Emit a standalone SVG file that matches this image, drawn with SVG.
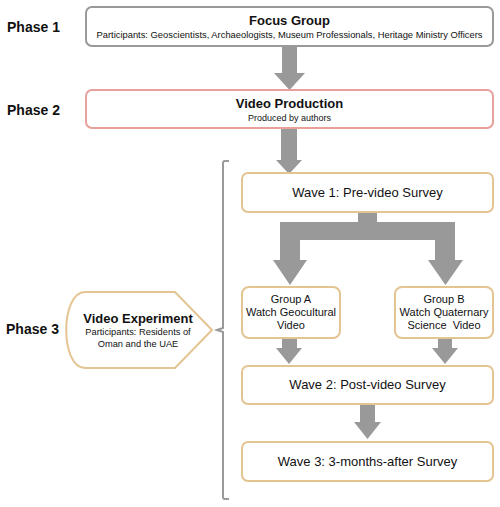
<svg xmlns="http://www.w3.org/2000/svg" width="500" height="507" viewBox="0 0 500 507">
<style>
text{font-family:"Liberation Sans",Arial,sans-serif;fill:#111}
.ph{font-size:14px;font-weight:bold}
.t{font-size:13px;font-weight:bold;text-anchor:middle}
.s{font-size:9px;text-anchor:middle}
.w{font-size:13px;text-anchor:middle}
.g{font-size:11px;text-anchor:middle}
.box{fill:#fff;stroke:#E3C492;stroke-width:2}
.arr{fill:#999}
</style>
<rect width="500" height="507" fill="#fff"/>
<g id="labels">
<text class="ph" x="7" y="32">Phase 1</text>
<text class="ph" x="7" y="115">Phase 2</text>
<text class="ph" x="6" y="334">Phase 3</text>
</g>
<g id="connectors">
<path class="arr" d="M282 46 H297 V73 H305 L289.5 90 L274 73 H282 Z"/>
<path class="arr" d="M281 128 H297 V160 H302 L289 174 L276 160 H281 Z"/>
<path class="arr" d="M358 212 H377 V222 H455 V260 H463 L445.5 285 L428 260 H435 V240 H300 V260 H307 L290 285 L273 260 H280 V222 H358 Z"/>
<path class="arr" d="M282 338 H297 V348 H302 L289 364 L276 348 H282 Z"/>
<path class="arr" d="M438 338 H452 V348 H458 L445 364 L432 348 H438 Z"/>
<path class="arr" d="M360 404 H375 V422 H381 L367.5 439 L354 422 H360 Z"/>
<path d="M229 161 H225 Q223 161 223 163 V328 L217 330 L223 332 V497 Q223 499 225 499 H229" fill="none" stroke="#999" stroke-width="2"/>
</g>
<g id="focus-group">
<rect x="86" y="7" width="407" height="39" rx="6" fill="#fff" stroke="#999" stroke-width="2"/>
<text class="t" x="289.5" y="25">Focus Group</text>
<text class="s" x="289.5" y="38" textLength="386" lengthAdjust="spacingAndGlyphs">Participants: Geoscientists, Archaeologists, Museum Professionals, Heritage Ministry Officers</text>
</g>
<g id="video-production">
<rect x="86" y="90" width="407" height="38" rx="6" fill="#fff" stroke="#E8A09B" stroke-width="2"/>
<text class="t" x="289.5" y="108">Video Production</text>
<text class="s" x="289.5" y="121">Produced by authors</text>
</g>
<g id="video-experiment">
<path d="M85 292 H175 L212 330 L175 368 H85 C60 368 60 292 85 292 Z" fill="#fff" stroke="#E3C492" stroke-width="2"/>
<text class="t" x="138" y="323">Video Experiment</text>
<text class="s" x="138" y="335" style="font-size:9.3px">Participants: Residents of</text>
<text class="s" x="138" y="347" style="font-size:9.3px">Oman and the UAE</text>
</g>
<g id="wave1">
<rect class="box" x="242" y="173" width="251" height="39" rx="6"/>
<text class="w" x="367.5" y="197">Wave 1: Pre-video Survey</text>
</g>
<g id="group-a">
<rect class="box" x="242" y="287" width="98" height="51" rx="7"/>
<text class="g" x="291" y="303">Group A</text>
<text class="g" x="291" y="316">Watch Geocultural</text>
<text class="g" x="291" y="329">Video</text>
</g>
<g id="group-b">
<rect class="box" x="395" y="287" width="98" height="51" rx="7"/>
<text class="g" x="444" y="303">Group B</text>
<text class="g" x="444" y="316">Watch Quaternary</text>
<text class="g" x="444" y="329" xml:space="preserve">Science  Video</text>
</g>
<g id="wave2">
<rect class="box" x="242" y="366" width="251" height="38" rx="6"/>
<text class="w" x="367.5" y="389">Wave 2: Post-video Survey</text>
</g>
<g id="wave3">
<rect class="box" x="242" y="442" width="251" height="39" rx="6"/>
<text class="w" x="367.5" y="466">Wave 3: 3-months-after Survey</text>
</g>
</svg>
